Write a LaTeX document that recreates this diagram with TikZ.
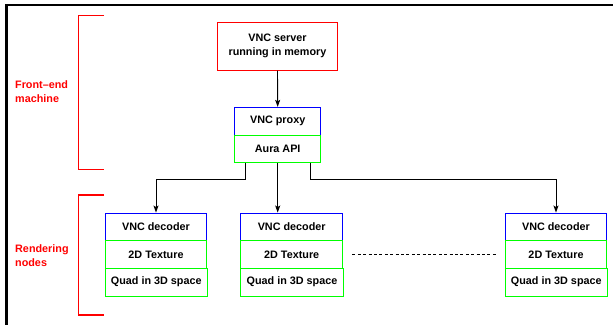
\documentclass[tikz,border=0pt]{standalone}
\usepackage{fontspec}
\setmainfont{Liberation Sans}
\usetikzlibrary{arrows.meta}
\tikzset{
  lbl/.style={font=\fontsize{10.8}{14}\selectfont\bfseries},
  unit/.style={lbl, draw, line width=1pt, inner sep=0pt, align=center},
  bluebox/.style={unit, draw={rgb,255:red,0;green,0;blue,255}},
  greenbox/.style={unit, draw={rgb,255:red,0;green,255;blue,0}},
  redbox/.style={unit, draw={rgb,255:red,255;green,0;blue,0}},
  arr/.style={line width=0.9pt, -{Stealth[length=7pt,width=5pt,inset=1.5pt]}},
  brace/.style={draw={rgb,255:red,255;green,0;blue,0}, line width=1.3pt},
  side/.style={lbl, text={rgb,255:red,255;green,0;blue,0}, align=left, anchor=west, inner sep=0pt},
}
\begin{document}
\begin{tikzpicture}[x=1pt, y=-1pt]
\useasboundingbox (0,0) rectangle (613,324);
% frame
\draw[line width=2.7pt] (6.3,330) -- (6.3,5);
\draw[line width=2pt] (5,5) -- (620,5);

% front-end machine
\node[redbox, minimum width=120.4pt, minimum height=47.7pt] (server) at (277.5,46.2) {VNC server\\running in memory};
\node[bluebox, minimum width=86pt, minimum height=27.7pt] (proxy) at (277.7,121.2) {VNC proxy};
\node[greenbox, minimum width=86pt, minimum height=27.3pt] (aura) at (277.7,148.7) {Aura API};

% rendering nodes
\foreach \i/\cx in {1/156, 2/291.7, 3/556} {
  \node[bluebox, minimum width=101.7pt, minimum height=27.7pt] (dec\i) at (\cx,226.9) {VNC decoder};
  \node[greenbox, minimum width=101.7pt, minimum height=27.3pt] (tex\i) at (\cx,254.4) {2D Texture};
  \node[greenbox, minimum width=102.3pt, minimum height=28pt] (quad\i) at (\cx+0.3,282) {Quad in 3D space};
}

% connections
\draw[arr] (server.south) -- (proxy.north);
\draw[arr] ([xshift=-32.7pt]aura.south) -- ++(0,17) -| (dec1.north);
\draw[arr] (aura.south) -- (aura.south |- dec2.north);
\draw[arr] ([xshift=33pt]aura.south) -- ++(0,17) -| (dec3.north);
\draw[line width=1.6pt, dash pattern=on 3pt off 2.4pt] ([xshift=9.4pt]tex2.east) -- ([xshift=-8.6pt]tex3.west);

% side brackets and captions
\draw[brace] (104,15.3) -- (78.7,15.3) -- (78.7,169.3) -- (104,169.3);
\draw[brace] (104,195) -- (78.7,195) -- (78.7,315) -- (104,315);
\node[side] (fe) at (15,92) {Front–end\\machine};
\node[side] (rn) at (15,255.5) {Rendering\\nodes};
\end{tikzpicture}
\end{document}
